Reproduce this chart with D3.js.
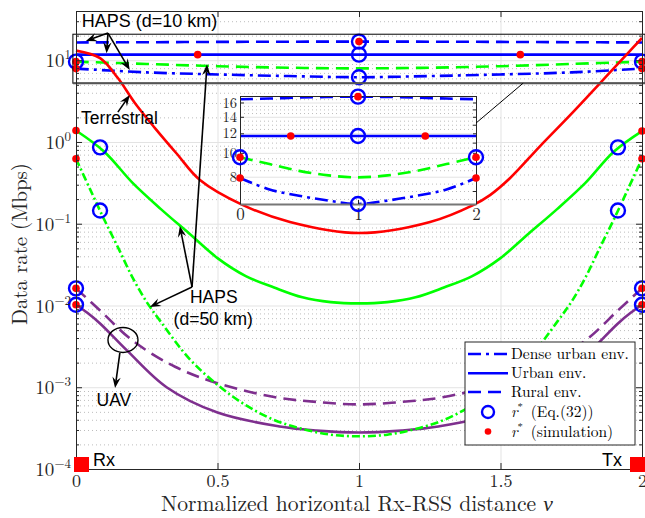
<!DOCTYPE html>
<html>
<head>
<meta charset="utf-8">
<script src="https://d3js.org/d3.v7.min.js"></script>
<style>
html,body{margin:0;padding:0;background:#fff;}
svg{display:block;}
</style>
</head>
<body>
<svg id="chart" width="645" height="518"></svg>
<script>
// ================= DATA =================
const xTickValues = [0, 0.5, 1, 1.5, 2];
const xTickLabels = ["0", "0.5", "1", "1.5", "2"];
const yTickExponents = [-4, -3, -2, -1, 0, 1];
const insetYTicks = [8, 10, 12, 14, 16];
const insetXTicks = [0, 1, 2];
const insetXLabels = ["0", "1", "2"];

// Terrestrial (red, solid)
const terrestrialX    = [0, 0.085, 0.148, 0.208, 0.279, 0.357, 0.438, 0.59, 0.756, 1.0, 1.251, 1.403, 1.463, 1.534, 1.64, 1.746, 1.852, 1.947, 2];
const terrestrialRate = [13.1, 10.6, 6.05, 3.0, 1.48, 0.713, 0.343, 0.169, 0.105, 0.0769, 0.105, 0.169, 0.224, 0.362, 0.891, 2.13, 5.26, 11.9, 18.7];

// HAPS d=50 km (green)
const hapsFarUrbanX    = [0, 0.1, 0.2, 0.3, 0.4, 0.5, 0.6, 0.7, 0.8, 0.9, 1.0, 1.1, 1.2, 1.3, 1.4, 1.5, 1.6, 1.7, 1.8, 1.9, 2];
const hapsFarUrbanRate = [1.38, 0.76, 0.316, 0.151, 0.0759, 0.038, 0.0229, 0.0166, 0.0126, 0.011, 0.0106, 0.011, 0.0126, 0.0166, 0.0229, 0.038, 0.0759, 0.151, 0.316, 0.76, 1.36];
const hapsFarDenseX    = [0, 0.05, 0.1, 0.15, 0.2, 0.25, 0.3, 0.4, 0.5, 0.6, 0.7, 0.8, 0.9, 1.0, 1.1, 1.2, 1.3, 1.4, 1.5, 1.6, 1.7, 1.75, 1.8, 1.85, 1.9, 1.95, 2];
const hapsFarDenseRate = [0.624, 0.263, 0.112, 0.050, 0.0219, 0.011, 0.0063, 0.00224, 0.00107, 0.000603, 0.000398, 0.000309, 0.000263, 0.000251, 0.000263, 0.000309, 0.000398, 0.000603, 0.00107, 0.00224, 0.0063, 0.011, 0.0219, 0.050, 0.112, 0.263, 0.624];
const hapsFarRuralX    = [0, 0.25, 0.5, 0.75, 1, 1.25, 1.5, 1.75, 2];
const hapsFarRuralRate = [9.6, 9.0, 8.45, 8.1, 7.95, 8.1, 8.45, 9.0, 9.6];

// HAPS d=10 km (blue)
const hapsNearX         = [0, 0.25, 0.5, 0.75, 1, 1.25, 1.5, 1.75, 2];
const hapsNearDenseRate = [7.9, 7.1, 6.7, 6.4, 6.2, 6.4, 6.7, 7.1, 7.9];
const hapsNearUrbanRate = [11.7, 11.7, 11.7, 11.7, 11.7, 11.7, 11.7, 11.7, 11.7];
const hapsNearRuralRate = [16.5, 16.6, 16.75, 16.85, 16.9, 16.85, 16.75, 16.6, 16.5];

// UAV (purple)
const uavUrbanX    = [0, 0.04, 0.085, 0.18, 0.32, 0.5, 0.72, 0.85, 1, 1.15, 1.28, 1.5, 1.68, 1.82, 1.915, 1.96, 2];
const uavUrbanRate = [0.0102, 0.00813, 0.00603, 0.00282, 0.00100, 0.00049, 0.000331, 0.000295, 0.000279, 0.000295, 0.000331, 0.00049, 0.00100, 0.00282, 0.00603, 0.00813, 0.0102];
const uavRuralX    = [0, 0.085, 0.2, 0.35, 0.5, 0.7, 0.85, 1, 1.15, 1.3, 1.5, 1.65, 1.8, 1.915, 2];
const uavRuralRate = [0.0162, 0.0087, 0.00372, 0.00178, 0.00112, 0.000759, 0.000661, 0.000617, 0.000661, 0.000759, 0.00112, 0.00178, 0.00372, 0.0087, 0.0162];

// r* (Eq.(32)) circles and r* (simulation) dots
const eqX    = [1, 1, 1, 0, 2, 0.085, 1.915, 0.085, 1.915, 0, 2, 0, 2];
const eqRate = [16.9, 11.7, 6.2, 9.6, 9.6, 0.86, 0.86, 0.145, 0.145, 0.0102, 0.0102, 0.0162, 0.0162];
const simX    = [1, 0.43, 1.57, 0, 2, 0, 2, 0, 2, 0, 2, 0, 2, 0, 2];
const simRate = [16.9, 11.7, 11.7, 7.9, 7.9, 9.6, 9.6, 1.38, 1.36, 0.624, 0.624, 0.0102, 0.0102, 0.0162, 0.0162];

const legendLabels = ["Dense urban env.", "Urban env.", "Rural env."];

// ================= STYLES / LAYOUT =================
const SERIF = '"Latin Modern Roman", "Liberation Serif", serif';
const SANS = '"Liberation Sans", Arial, sans-serif';
const BLUE = "#0000ff", GREEN = "#00ff00", RED = "#ff0000", PURPLE = "#7e2f8e";
const DASH = "13,7", DASHDOT = "13,5,3,5", GDASHDOT = "8,3,2,3";
const AXC = "#262626";

const L = 76, R = 642, T = 11, B = 469;
const svg = d3.select("#chart");
const x = d3.scaleLinear().domain([0, 2]).range([L, R]);
const y = d3.scaleLog().domain([1e-4, 40]).range([B, T]);

const minorVals = [];
yTickExponents.forEach(e => { for (let k = 2; k <= 9; k++) { const v = k * Math.pow(10, e); if (v <= 40) minorVals.push(v); } });
const majorVals = yTickExponents.map(e => Math.pow(10, e));

// ---------- grid ----------
const grid = svg.append("g");
grid.append("g").attr("transform", `translate(${L},0)`)
  .call(d3.axisLeft(y).tickValues(minorVals).tickSize(-(R - L)).tickFormat(""))
  .call(g => g.select(".domain").remove())
  .selectAll("line").attr("stroke", "#bdbdbd").attr("stroke-width", 1).attr("stroke-dasharray", "1,3");
grid.append("g").attr("transform", `translate(${L},0)`)
  .call(d3.axisLeft(y).tickValues(majorVals).tickSize(-(R - L)).tickFormat(""))
  .call(g => g.select(".domain").remove())
  .selectAll("line").attr("stroke", "#e3e3e3").attr("stroke-width", 1);
grid.append("g").attr("transform", `translate(0,${B})`)
  .call(d3.axisBottom(x).tickValues(xTickValues).tickSize(-(B - T)).tickFormat(""))
  .call(g => g.select(".domain").remove())
  .selectAll("line").attr("stroke", "#e3e3e3").attr("stroke-width", 1);

// ---------- curves ----------
const zip = (xs, ys) => xs.map((v, i) => [v, ys[i]]);
const line = d3.line().x(d => x(d[0])).y(d => y(d[1])).curve(d3.curveCatmullRom.alpha(0.5));

const mainSeries = [
  { xs: uavRuralX, ys: uavRuralRate, color: PURPLE, dash: DASH },
  { xs: uavUrbanX, ys: uavUrbanRate, color: PURPLE, dash: null },
  { xs: hapsFarDenseX, ys: hapsFarDenseRate, color: GREEN, dash: GDASHDOT },
  { xs: hapsFarUrbanX, ys: hapsFarUrbanRate, color: GREEN, dash: null },
  { xs: hapsFarRuralX, ys: hapsFarRuralRate, color: GREEN, dash: DASH },
  { xs: hapsNearX, ys: hapsNearDenseRate, color: BLUE, dash: DASHDOT },
  { xs: hapsNearX, ys: hapsNearUrbanRate, color: BLUE, dash: null },
  { xs: hapsNearX, ys: hapsNearRuralRate, color: BLUE, dash: DASH },
  { xs: terrestrialX, ys: terrestrialRate, color: RED, dash: null }
];
const curves = svg.append("g");
mainSeries.forEach(s => {
  curves.append("path").datum(zip(s.xs, s.ys)).attr("d", line)
    .attr("fill", "none").attr("stroke", s.color).attr("stroke-width", 2.6)
    .attr("stroke-dasharray", s.dash);
});

// ---------- markers (main) ----------
const marks = svg.append("g");
marks.selectAll("circle.eq").data(zip(eqX, eqRate)).join("circle")
  .attr("cx", d => x(d[0])).attr("cy", d => y(d[1])).attr("r", 7)
  .attr("fill", "none").attr("stroke", BLUE).attr("stroke-width", 2.4);
marks.selectAll("circle.sim").data(zip(simX, simRate)).join("circle")
  .attr("cx", d => x(d[0])).attr("cy", d => y(d[1])).attr("r", 3.8)
  .attr("fill", RED);

// ---------- zoom rectangle ----------
const zoomLo = 5.24, zoomHi = 20.8;
svg.append("rect").attr("x", x(-0.011)).attr("y", y(zoomHi))
  .attr("width", x(2.011) - x(-0.011)).attr("height", y(zoomLo) - y(zoomHi))
  .attr("fill", "none").attr("stroke", "#000").attr("stroke-width", 1);
svg.append("line").attr("x1", x(-0.011)).attr("x2", x(2.011)).attr("y1", y(zoomLo)).attr("y2", y(zoomLo))
  .attr("stroke", "#555").attr("stroke-width", 2);

// ---------- axes ----------
const axes = svg.append("g");
const styleAxis = g => { g.select(".domain").attr("stroke", AXC); g.selectAll(".tick line").attr("stroke", AXC); };
axes.append("g").attr("transform", `translate(${L},0)`)
  .call(d3.axisLeft(y).tickValues(minorVals).tickSize(-3).tickSizeOuter(0).tickFormat("")).call(styleAxis);
axes.append("g").attr("transform", `translate(${R},0)`)
  .call(d3.axisRight(y).tickValues(minorVals).tickSize(-3).tickSizeOuter(0).tickFormat("")).call(styleAxis);
axes.append("g").attr("transform", `translate(${R},0)`)
  .call(d3.axisRight(y).tickValues(majorVals).tickSize(-6).tickSizeOuter(0).tickFormat("")).call(styleAxis);
axes.append("g").attr("transform", `translate(0,${T})`)
  .call(d3.axisTop(x).tickValues(xTickValues).tickSize(-6).tickSizeOuter(0).tickFormat("")).call(styleAxis);
const yAx = axes.append("g").attr("transform", `translate(${L},0)`)
  .call(d3.axisLeft(y).tickValues(majorVals).tickSize(-6).tickSizeOuter(0).tickPadding(5)).call(styleAxis);
yAx.selectAll(".tick text").each(function(d, i) {
  const t = d3.select(this).text(null).style("font-family", SERIF).style("font-size", "19px").attr("fill", AXC).attr("dy", "0.35em");
  t.append("tspan").text("10");
  t.append("tspan").attr("dy", -8).style("font-size", "13px").text(String(yTickExponents[i]).replace("-", "\u2212"));
});
const xAx = axes.append("g").attr("transform", `translate(0,${B})`)
  .call(d3.axisBottom(x).tickValues(xTickValues).tickSize(-6).tickSizeOuter(0).tickPadding(5)
    .tickFormat((d, i) => xTickLabels[i])).call(styleAxis);
xAx.selectAll(".tick text").style("font-family", SERIF).style("font-size", "18px").attr("fill", AXC);

// titles
const fit = (sel, fs, target) => { sel.style("font-size", fs + "px"); const len = sel.node().getComputedTextLength(); sel.style("font-size", (fs * target / len) + "px"); };
const xt = svg.append("text").attr("x", (L + R) / 2 - 2).attr("y", 511).attr("text-anchor", "middle")
  .style("font-family", SERIF).attr("fill", AXC);
xt.append("tspan").text("Normalized horizontal Rx-RSS distance ");
xt.append("tspan").style("font-style", "italic").text("\u03BD");
fit(xt, 20, 392);
const yt = svg.append("text").attr("transform", "translate(27,244) rotate(-90)").attr("text-anchor", "middle")
  .style("font-family", SERIF).attr("fill", AXC).text("Data rate (Mbps)");
fit(yt, 20, 162);

// ---------- inset ----------
const IL = 240, IR = 476, IT = 96, IB = 204;
const ix = d3.scaleLinear().domain([0, 2]).range([IL, IR]);
const iy = d3.scaleLog().domain([6.2, 17]).range([IB, IT]);
const inset = svg.append("g");
inset.append("rect").attr("x", IL).attr("y", IT).attr("width", IR - IL).attr("height", IB - IT).attr("fill", "#fff");
const insetMinor = [7, 9, 11, 13, 15];
inset.append("g").attr("transform", `translate(${IL},0)`)
  .call(d3.axisLeft(iy).tickValues([6.5, 7, 7.5, 8.5, 9, 9.5, 10.5, 11, 11.5, 12.5, 13, 13.5, 14.5, 15, 15.5, 16.5]).tickSize(-(IR - IL)).tickFormat(""))
  .call(g => g.select(".domain").remove())
  .selectAll("line").attr("stroke", "#bdbdbd").attr("stroke-dasharray", "1,3");
inset.append("g").attr("transform", `translate(${IL},0)`)
  .call(d3.axisLeft(iy).tickValues(insetYTicks).tickSize(-(IR - IL)).tickFormat(""))
  .call(g => g.select(".domain").remove())
  .selectAll("line").attr("stroke", "#e3e3e3");
inset.append("g").attr("transform", `translate(0,${IB})`)
  .call(d3.axisBottom(ix).tickValues([1]).tickSize(-(IB - IT)).tickFormat(""))
  .call(g => g.select(".domain").remove())
  .selectAll("line").attr("stroke", "#e3e3e3");

inset.append("clipPath").attr("id", "iclip").append("rect").attr("x", IL).attr("y", IT).attr("width", IR - IL).attr("height", IB - IT);
const iline = d3.line().x(d => ix(d[0])).y(d => iy(d[1])).curve(d3.curveCatmullRom.alpha(0.5));
const insetSeries = [
  { xs: hapsFarRuralX, ys: hapsFarRuralRate, color: GREEN, dash: DASH },
  { xs: hapsNearX, ys: hapsNearDenseRate, color: BLUE, dash: DASHDOT },
  { xs: hapsNearX, ys: hapsNearUrbanRate, color: BLUE, dash: null },
  { xs: hapsNearX, ys: hapsNearRuralRate, color: BLUE, dash: DASH }
];
const icurves = inset.append("g").attr("clip-path", "url(#iclip)");
insetSeries.forEach(s => {
  icurves.append("path").datum(zip(s.xs, s.ys)).attr("d", iline)
    .attr("fill", "none").attr("stroke", s.color).attr("stroke-width", 2.6).attr("stroke-dasharray", s.dash);
});
// inset frame and ticks
const iyAx = inset.append("g").attr("transform", `translate(${IL},0)`)
  .call(d3.axisLeft(iy).tickValues(insetYTicks).tickSize(-4).tickSizeOuter(0).tickPadding(3).tickFormat(d3.format("d"))).call(styleAxis);
iyAx.selectAll(".tick text").style("font-family", SERIF).style("font-size", "14.5px").attr("fill", AXC);
inset.append("g").attr("transform", `translate(${IR},0)`)
  .call(d3.axisRight(iy).tickValues(insetYTicks.concat(insetMinor)).tickSize(-3).tickSizeOuter(0).tickFormat("")).call(styleAxis);
const ixAx = inset.append("g").attr("transform", `translate(0,${IB})`)
  .call(d3.axisBottom(ix).tickValues(insetXTicks).tickSize(-4).tickSizeOuter(0).tickPadding(4)
    .tickFormat((d, i) => insetXLabels[i])).call(styleAxis)
  .call(g => g.select(".domain").attr("stroke", "#777").attr("stroke-width", 2));
ixAx.selectAll(".tick text").style("font-family", SERIF).style("font-size", "17px").attr("fill", AXC);
inset.append("g").attr("transform", `translate(0,${IT})`)
  .call(d3.axisTop(ix).tickValues(insetXTicks).tickSize(-4).tickSizeOuter(0).tickFormat("")).call(styleAxis);
// inset markers
const inRange = d => d[1] >= 6.1 && d[1] <= 17.1;
inset.selectAll("circle.ieq").data(zip(eqX, eqRate).filter(inRange)).join("circle")
  .attr("cx", d => ix(d[0])).attr("cy", d => iy(d[1])).attr("r", 7)
  .attr("fill", "none").attr("stroke", BLUE).attr("stroke-width", 2.4);
inset.selectAll("circle.isim").data(zip(simX, simRate).filter(inRange)).join("circle")
  .attr("cx", d => ix(d[0])).attr("cy", d => iy(d[1])).attr("r", 3.8).attr("fill", RED);
// connector
svg.append("line").attr("x1", ix(2)).attr("y1", iy(13.2)).attr("x2", x(1.58)).attr("y2", y(zoomLo))
  .attr("stroke", "#000").attr("stroke-width", 1);

// ---------- annotations ----------
const ann = svg.append("g");
function arrow(x1, y1, x2, y2) {
  const a = Math.atan2(y2 - y1, x2 - x1), hl = 11, hw = 4.2;
  const bx = x2 - hl * Math.cos(a), by = y2 - hl * Math.sin(a);
  const nx = x2 - 0.65 * hl * Math.cos(a), ny = y2 - 0.65 * hl * Math.sin(a);
  ann.append("line").attr("x1", x1).attr("y1", y1).attr("x2", nx).attr("y2", ny).attr("stroke", "#000").attr("stroke-width", 1.6);
  const p1 = [bx + hw * Math.sin(a), by - hw * Math.cos(a)], p2 = [bx - hw * Math.sin(a), by + hw * Math.cos(a)];
  ann.append("path").attr("d", `M${x2},${y2}L${p1[0]},${p1[1]}L${nx},${ny}L${p2[0]},${p2[1]}Z`).attr("fill", "#000");
}
const pt = (nu, v) => [x(nu), y(v)];
const A = (o, t) => arrow(...pt(...o), ...pt(...t));
// HAPS d=10 km
A([0.113, 21.5], [0.035, 17.2]);
A([0.113, 21.5], [0.108, 12.2]);
A([0.113, 21.5], [0.19, 7.6]);
// Terrestrial
A([0.148, 2.32], [0.19, 3.75]);
// HAPS d=50 km
A([0.41, 0.0168], [0.367, 0.0937]);
A([0.41, 0.0168], [0.463, 8.9]);
A([0.41, 0.0168], [0.261, 0.0096]);
// UAV
ann.append("ellipse").attr("cx", x(0.166)).attr("cy", y(0.00379)).attr("rx", 15).attr("ry", 12.5)
  .attr("fill", "none").attr("stroke", "#000").attr("stroke-width", 1.4);
A([0.155, 0.00263], [0.138, 0.00098]);

const label = (txt, nu, v, anchor, fs) => ann.append("text").attr("x", x(nu)).attr("y", y(v)).attr("dy", "0.36em")
  .attr("text-anchor", anchor).style("font-family", SANS).style("font-size", (fs || 17.5) + "px").attr("fill", "#000").text(txt);
label("HAPS (d=10 km)", 0.02, 31, "start", 18);
label("Terrestrial", 0.018, 1.96, "start");
label("HAPS", 0.487, 0.0128, "middle");
label("(d=50 km)", 0.485, 0.00697, "middle");
label("UAV", 0.134, 0.000697, "middle");

// ---------- legend ----------
const lg = svg.append("g");
const LX = 465, LY = 342, LW = 170, LH = 103;
lg.append("rect").attr("x", LX).attr("y", LY).attr("width", LW).attr("height", LH).attr("fill", "#fff").attr("stroke", "#262626").attr("stroke-width", 1);
const legDash = [DASHDOT, null, DASH];
const rowY = [354, 373.3, 392, 412, 431.5];
legendLabels.forEach((t, i) => {
  lg.append("line").attr("x1", LX + 3).attr("x2", LX + 43).attr("y1", rowY[i]).attr("y2", rowY[i])
    .attr("stroke", BLUE).attr("stroke-width", 2.6).attr("stroke-dasharray", legDash[i]);
  lg.append("text").attr("x", LX + 46).attr("y", rowY[i]).attr("dy", "0.33em")
    .style("font-family", SERIF).style("font-size", "15.5px").attr("fill", "#000").text(t);
});
lg.append("circle").attr("cx", LX + 23).attr("cy", rowY[3]).attr("r", 6).attr("fill", "none").attr("stroke", BLUE).attr("stroke-width", 2.4);
lg.append("circle").attr("cx", LX + 23).attr("cy", rowY[4]).attr("r", 3.3).attr("fill", RED);
[["(Eq.(32))", 3], ["(simulation)", 4]].forEach(([t, r]) => {
  const tx = lg.append("text").attr("x", LX + 46).attr("y", rowY[r]).attr("dy", "0.33em")
    .style("font-family", SERIF).style("font-size", "15.5px").attr("fill", "#000");
  tx.append("tspan").style("font-style", "italic").text("r");
  tx.append("tspan").attr("dy", -6).style("font-size", "11px").text("*");
  tx.append("tspan").attr("dy", 6).text("\u2002" + t);
});

// ---------- Rx / Tx ----------
svg.append("rect").attr("x", x(0) - 2).attr("y", y(1e-4) - 12).attr("width", 15).attr("height", 15).attr("fill", RED);
svg.append("rect").attr("x", x(2) - 12).attr("y", y(1e-4) - 12).attr("width", 15).attr("height", 15).attr("fill", RED);
svg.append("text").attr("x", x(0) + 17).attr("y", y(1e-4) - 3).style("font-family", SANS).style("font-size", "18px").text("Rx");
svg.append("text").attr("x", x(2) - 20).attr("y", y(1e-4) - 3).attr("text-anchor", "end").style("font-family", SANS).style("font-size", "18px").text("Tx");
</script>
</body>
</html>
